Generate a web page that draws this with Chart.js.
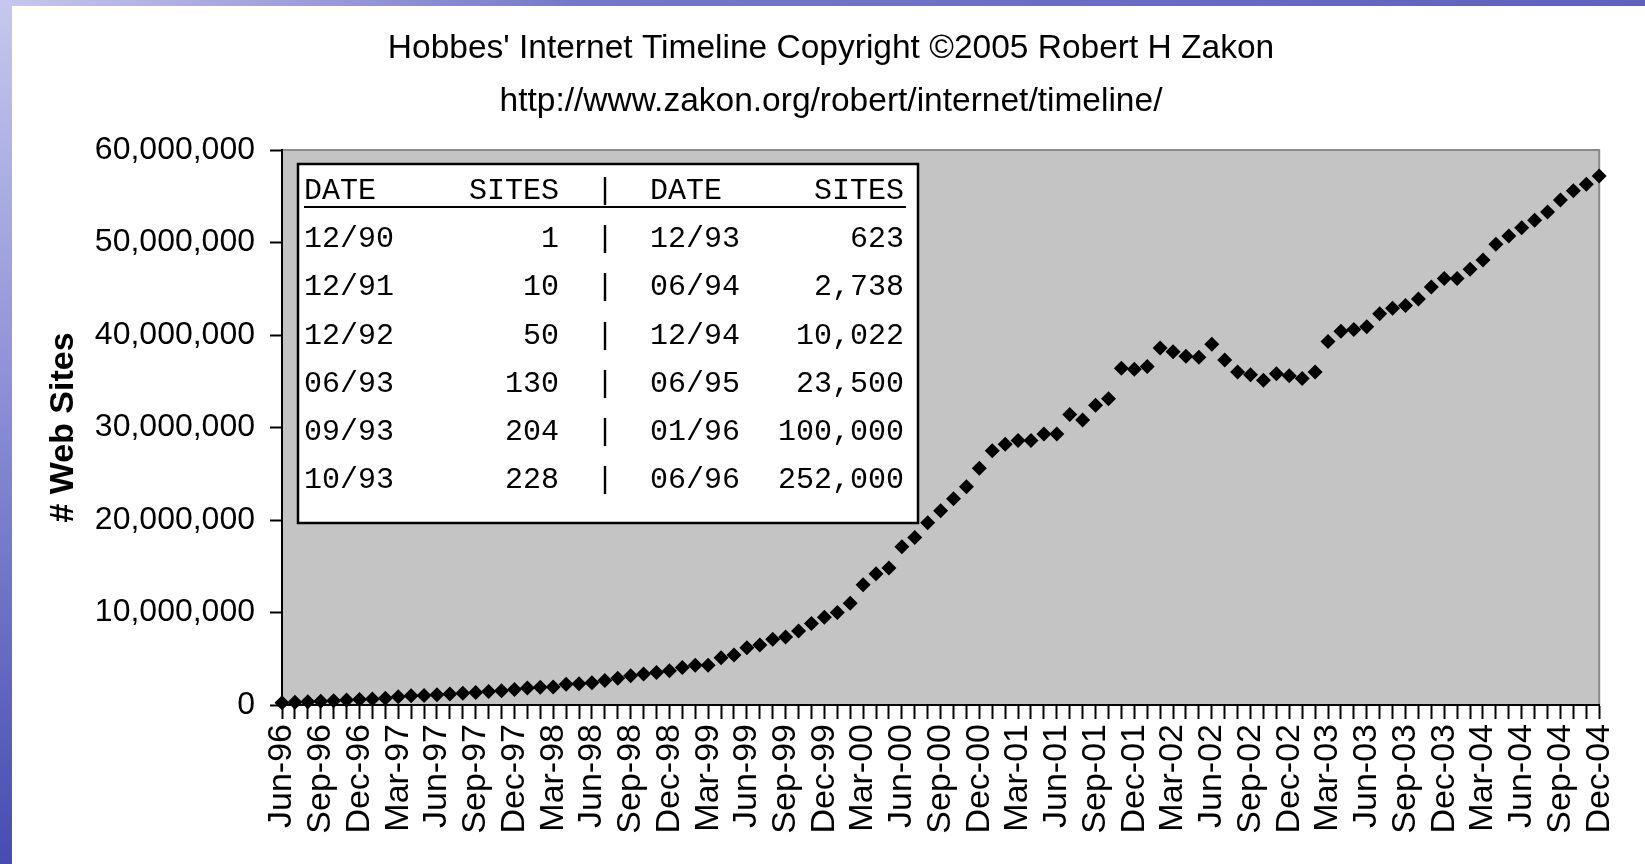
<!DOCTYPE html>
<html>
<head>
<meta charset="utf-8">
<title>Hobbes' Internet Timeline - Web Sites</title>
<script src="https://cdn.jsdelivr.net/npm/chart.js@4.4.1/dist/chart.umd.min.js"></script>
<style>
  html, body { margin: 0; padding: 0; background: #fff; }
  .page { position: relative; width: 1645px; height: 864px; overflow: hidden; background: #fff; }
  .edge-left { position: absolute; left: 0; top: 0; width: 12px; height: 864px;
    background: linear-gradient(#c6c8ee, #8c90d6 45%, #474cb2); }
  .edge-top { position: absolute; left: 0; top: 0; width: 1645px; height: 6px;
    background: linear-gradient(90deg, #c6c8ee, #7478cc 35%, #5d61c0); }
  canvas { position: absolute; left: 0; top: 0; }
</style>
</head>
<body>
<div class="page">
  <canvas id="sites" width="1645" height="864"></canvas>
  <div class="edge-left"></div>
  <div class="edge-top"></div>
</div>
<script>
//month categories (Jun-96 .. Dec-04)
let months = [
  "Jun-96", "Jul-96", "Aug-96", "Sep-96", "Oct-96", "Nov-96", "Dec-96",
  "Jan-97", "Feb-97", "Mar-97", "Apr-97", "May-97", "Jun-97", "Jul-97", "Aug-97", "Sep-97", "Oct-97", "Nov-97", "Dec-97",
  "Jan-98", "Feb-98", "Mar-98", "Apr-98", "May-98", "Jun-98", "Jul-98", "Aug-98", "Sep-98", "Oct-98", "Nov-98", "Dec-98",
  "Jan-99", "Feb-99", "Mar-99", "Apr-99", "May-99", "Jun-99", "Jul-99", "Aug-99", "Sep-99", "Oct-99", "Nov-99", "Dec-99",
  "Jan-00", "Feb-00", "Mar-00", "Apr-00", "May-00", "Jun-00", "Jul-00", "Aug-00", "Sep-00", "Oct-00", "Nov-00", "Dec-00",
  "Jan-01", "Feb-01", "Mar-01", "Apr-01", "May-01", "Jun-01", "Jul-01", "Aug-01", "Sep-01", "Oct-01", "Nov-01", "Dec-01",
  "Jan-02", "Feb-02", "Mar-02", "Apr-02", "May-02", "Jun-02", "Jul-02", "Aug-02", "Sep-02", "Oct-02", "Nov-02", "Dec-02",
  "Jan-03", "Feb-03", "Mar-03", "Apr-03", "May-03", "Jun-03", "Jul-03", "Aug-03", "Sep-03", "Oct-03", "Nov-03", "Dec-03",
  "Jan-04", "Feb-04", "Mar-04", "Apr-04", "May-04", "Jun-04", "Jul-04", "Aug-04", "Sep-04", "Oct-04", "Nov-04", "Dec-04",
];

//number of web sites, one value per month
let sites = [
  250000, 300000, 340000, 400000, 460000, 530000, 600000,
  650000, 740000, 880000, 1000000, 1040000, 1120000, 1200000, 1270000, 1360000, 1470000, 1550000, 1680000,
  1830000, 1920000, 1950000, 2250000, 2300000, 2410000, 2640000, 2900000, 3160000, 3360000, 3520000, 3690000,
  4060000, 4300000, 4300000, 5100000, 5400000, 6200000, 6500000, 7100000, 7350000, 8000000, 8800000, 9500000,
  10000000, 11000000, 13000000, 14200000, 14800000, 17100000, 18100000, 19700000, 21000000, 22300000, 23600000, 25600000,
  27500000, 28200000, 28600000, 28600000, 29300000, 29300000, 31400000, 30800000, 32400000, 33100000, 36400000, 36300000,
  36600000, 38600000, 38200000, 37700000, 37600000, 39000000, 37300000, 36000000, 35700000, 35100000, 35800000, 35600000,
  35300000, 36000000, 39300000, 40400000, 40600000, 40900000, 42300000, 42900000, 43200000, 43900000, 45200000, 46100000,
  46100000, 47100000, 48100000, 49800000, 50700000, 51600000, 52400000, 53300000, 54600000, 55600000, 56300000, 57200000,
];

//early history table printed inside the plot
let tableHead = ["DATE", "SITES", "DATE", "SITES"];
let earlyDates = ["12/90", "12/91", "12/92", "06/93", "09/93", "10/93"];
let earlySites = ["1", "10", "50", "130", "204", "228"];
let laterDates = ["12/93", "06/94", "12/94", "06/95", "01/96", "06/96"];
let laterSites = ["623", "2,738", "10,022", "23,500", "100,000", "252,000"];

let titleLines = [
  "Hobbes' Internet Timeline Copyright \u00a92005 Robert H Zakon",
  "http://www.zakon.org/robert/internet/timeline/",
];

let sans = '"Liberation Sans", Arial, sans-serif';
let mono = '"Liberation Mono", "DejaVu Sans Mono", monospace';

//gray plot background, title and the data table
let plotDecor = {
  id: "plotDecor",
  beforeDraw(chart) {
    let { ctx, chartArea: a } = chart;
    ctx.save();
    ctx.fillStyle = "#c4c4c4";
    ctx.fillRect(a.left, a.top, a.right - a.left, a.bottom - a.top);
    ctx.strokeStyle = "#8a8a8a";
    ctx.lineWidth = 2;
    ctx.beginPath();
    ctx.moveTo(a.left, a.top);
    ctx.lineTo(a.right, a.top);
    ctx.lineTo(a.right, a.bottom);
    ctx.stroke();

    ctx.fillStyle = "#000";
    ctx.font = "33.5px " + sans;
    ctx.textAlign = "center";
    ctx.textBaseline = "middle";
    ctx.fillText(titleLines[0], 831, 49);
    ctx.fillText(titleLines[1], 831, 102);
    ctx.restore();
  },
  beforeDatasetsDraw(chart) {
    let { ctx, chartArea: a } = chart;
    let x0 = a.left + 16;
    let y0 = a.top + 14;
    let w = 620;
    let h = 359;
    ctx.save();
    ctx.fillStyle = "#fff";
    ctx.fillRect(x0, y0, w, h);
    ctx.strokeStyle = "#000";
    ctx.lineWidth = 2.5;
    ctx.strokeRect(x0, y0, w, h);

    ctx.font = "30px " + mono;
    ctx.fillStyle = "#000";
    ctx.textBaseline = "middle";

    let colDate = x0 + 6;
    let colSites = x0 + 261;
    let colBar = x0 + 307;
    let colDate2 = x0 + 352;
    let colSites2 = x0 + 606;

    let headY = y0 + 27;
    ctx.textAlign = "left";
    ctx.fillText(tableHead[0], colDate, headY);
    ctx.fillText(tableHead[2], colDate2, headY);
    ctx.textAlign = "right";
    ctx.fillText(tableHead[1], colSites, headY);
    ctx.fillText(tableHead[3], colSites2, headY);
    ctx.textAlign = "center";
    ctx.fillText("|", colBar, headY);

    ctx.lineWidth = 2;
    ctx.beginPath();
    ctx.moveTo(colDate, y0 + 43);
    ctx.lineTo(colSites2 + 2, y0 + 43);
    ctx.stroke();

    for (let r = 0; r < earlyDates.length; r++) {
      let y = y0 + 75 + r * 48.3;
      ctx.textAlign = "left";
      ctx.fillText(earlyDates[r], colDate, y);
      ctx.fillText(laterDates[r], colDate2, y);
      ctx.textAlign = "right";
      ctx.fillText(earlySites[r], colSites, y);
      ctx.fillText(laterSites[r], colSites2, y);
      ctx.textAlign = "center";
      ctx.fillText("|", colBar, y);
    }
    ctx.restore();
  },
};

Chart.defaults.color = "#000";

let chart = new Chart(document.getElementById("sites"), {
  type: "line",
  data: {
    labels: months,
    datasets: [
      {
        data: sites,
        showLine: false,
        pointStyle: "rectRot",
        pointRadius: 7.5,
        pointHoverRadius: 7.5,
        pointBackgroundColor: "#000",
        pointBorderColor: "#000",
        pointBorderWidth: 0,
        clip: false,
      },
    ],
  },
  plugins: [plotDecor],
  options: {
    responsive: false,
    animation: false,
    devicePixelRatio: 1,
    layout: { padding: { top: 150, right: 43, bottom: 0, left: 0 } },
    plugins: {
      legend: { display: false },
      tooltip: { enabled: false },
    },
    scales: {
      x: {
        offset: false,
        afterFit: (scale) => { scale.height = 159; },
        grid: {
          drawOnChartArea: false,
          drawTicks: true,
          tickLength: 14,
          tickWidth: 2,
          tickColor: "#000",
        },
        border: { display: true, color: "#000", width: 2 },
        ticks: {
          autoSkip: false,
          minRotation: 90,
          maxRotation: 90,
          padding: 5,
          font: { family: sans, size: 34 },
          callback: (val, i) => (i % 3 === 0 ? months[i] : ""),
        },
      },
      y: {
        min: 0,
        max: 60000000,
        afterFit: (scale) => { scale.width = 282; },
        grid: {
          drawOnChartArea: false,
          drawTicks: true,
          tickLength: 12,
          tickWidth: 2,
          tickColor: "#000",
        },
        border: { display: true, color: "#000", width: 2 },
        ticks: {
          stepSize: 10000000,
          padding: 15,
          font: { family: sans, size: 32 },
          callback: (v) => v.toLocaleString("en-US"),
        },
        title: {
          display: true,
          text: "# Web Sites",
          font: { family: sans, size: 34, weight: "bold" },
          padding: { top: 43, bottom: 0 },
        },
      },
    },
  },
});
</script>
</body>
</html>
